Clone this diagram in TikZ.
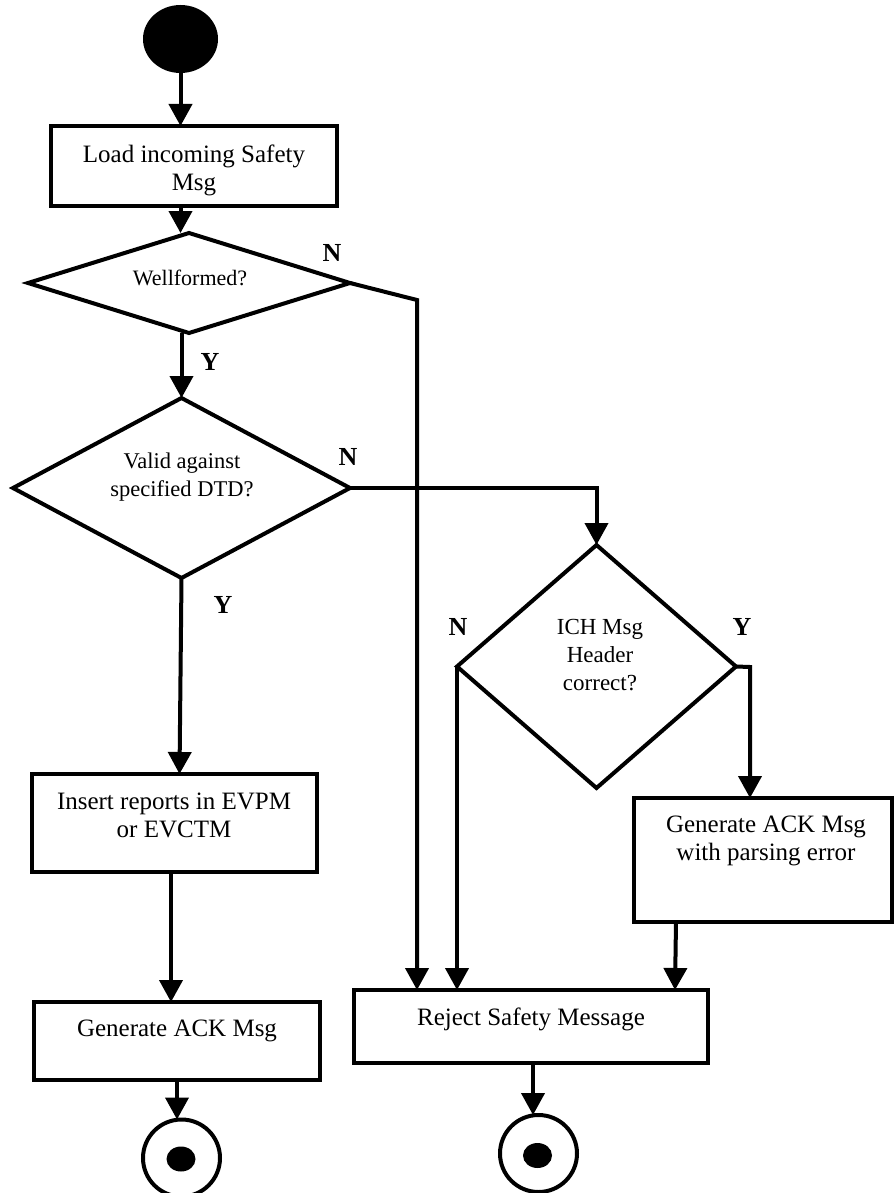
\documentclass[tikz,border=0pt]{standalone}
\usepackage{fontspec}
\setmainfont{Liberation Serif}
\usetikzlibrary{arrows.meta,shapes.geometric}

\begin{document}
\begin{tikzpicture}[x=1pt,y=-1pt,
  every node/.style={outer sep=0pt},
  flow/.style={line width=4pt, -{Triangle[length=22pt,width=23pt]}},
  stepbox/.style={draw, line width=4pt, rectangle, inner sep=0pt},
  decision/.style={draw, line width=4pt, diamond, inner sep=0pt},
  txt/.style={align=center, inner sep=0pt, font=\fontsize{25}{28}\selectfont},
  qtxt/.style={align=center, inner sep=0pt, font=\fontsize{22.5}{28}\selectfont},
  lbl/.style={inner sep=0pt, font=\fontsize{26}{30}\selectfont\bfseries},
  final/.style={draw, circle, line width=4pt, minimum size=77pt, inner sep=0pt},
  finaldot/.style={ellipse, fill, minimum width=29pt, minimum height=25pt, inner sep=0pt},
]
\useasboundingbox (0,0) rectangle (895,1193);

% initial state
\node[ellipse, fill, minimum width=75pt, minimum height=68pt, inner sep=0pt] (start) at (180.5,39) {};

% actions
\node[stepbox, minimum width=286pt, minimum height=80pt] (load) at (194,166) {};
\node[txt] (loadt) at (194,170) {Load incoming Safety\\Msg};

\node[stepbox, minimum width=285pt, minimum height=98pt] (insert) at (174.5,823) {};
\node[txt] (insertt) at (174,815) {Insert reports in EVPM\\or EVCTM};

\node[stepbox, minimum width=286pt, minimum height=78pt] (ack) at (177,1041) {};
\node[txt] (ackt) at (177,1031) {Generate ACK Msg};

\node[stepbox, minimum width=354pt, minimum height=73pt] (reject) at (531,1026.5) {};
\node[txt] (rejectt) at (531,1019) {Reject Safety Message};

\node[stepbox, minimum width=258pt, minimum height=124pt] (parse) at (763,860) {};
\node[txt] (parset) at (766,841) {Generate ACK Msg\\with parsing error};

% decisions
\node[decision, minimum width=322pt, minimum height=100pt] (d1) at (189,283) {};
\node[inner sep=0pt, font=\fontsize{22}{26}\selectfont] (d1t) at (190,277.5) {Wellformed?};

\node[decision, minimum width=337pt, minimum height=180pt] (d2) at (181.5,488) {};
\node[qtxt] (d2t) at (182,477) {Valid against\\specified DTD?};

\node[decision, minimum width=279pt, minimum height=243pt] (d3) at (596.5,666.5) {};
\node[align=center, inner sep=0pt, font=\fontsize{23}{28}\selectfont] (d3t) at (600,655) {ICH Msg\\Header\\correct?};

% final states
\node[final] (end1) at (181.5,1158) {};
\node[finaldot] (end1dot) at (181,1159) {};
\node[final] (end2) at (538.5,1153.5) {};
\node[finaldot] (end2dot) at (537.5,1155.5) {};

% branch labels
\node[lbl] (n1) at (332,252.5) {N};
\node[lbl] (y1) at (210,362) {Y};
\node[lbl] (n2) at (348,457) {N};
\node[lbl] (y2) at (223,605) {Y};
\node[lbl] (n3) at (458,627) {N};
\node[lbl] (y3) at (742,627) {Y};

% bends
\coordinate (n1bend) at (417,300);
\coordinate (ybend) at (750,667);

% main flow
\draw[flow] (start.south) -- (start.south |- load.north);
\draw[flow] (start.south |- load.south) -- (start.south |- d1.north);
\draw[flow] (d2.north |- d1.south) -- (d2.north);
\draw[flow] (d2.south) -- ([xshift=-2pt]d2.south |- insert.north);
\draw[flow] ([xshift=-3.5pt]insert.south) -- ([xshift=-3.5pt]insert.south |- ack.north);
\draw[flow] (ack.south) -- (ack.south |- end1.north);

% rejection paths
\draw[flow] (d1.east) -- (n1bend) -- (n1bend |- reject.north);
\draw[flow] (d2.east) -- (d2.east -| d3.north) -- (d3.north);
\draw[flow] (d3.west) -- (d3.west |- reject.north);
\draw[flow] (d3.east) -- (ybend) -- (ybend |- parse.north);
\draw[flow] ([xshift=-87pt]parse.south) -- ([xshift=-88pt]parse.south |- reject.north);
\draw[flow] ([xshift=2pt]reject.south) -- ([xshift=2pt]reject.south |- end2.north);
\end{tikzpicture}
\end{document}
